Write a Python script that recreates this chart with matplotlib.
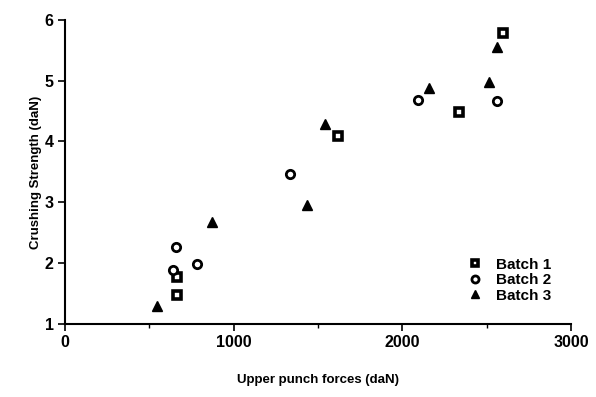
import matplotlib
matplotlib.use("Agg")
import matplotlib.pyplot as plt
from matplotlib.ticker import MultipleLocator

# Batch 1 (squares)
b1_force = [662, 662, 1617, 2334, 2595]
b1_strength = [1.48, 1.78, 4.09, 4.48, 5.78]
# Batch 2 (open circles)
b2_force = [641, 657, 780, 1333, 2091, 2559]
b2_strength = [1.88, 2.27, 1.99, 3.46, 4.68, 4.66]
# Batch 3 (filled triangles)
b3_force = [547, 870, 1434, 1540, 2157, 2512, 2559]
b3_strength = [1.29, 2.68, 2.96, 4.29, 4.88, 4.97, 5.55]

x_ticks = [0, 1000, 2000, 3000]
y_ticks = [1, 2, 3, 4, 5, 6]

plt.rcParams["font.family"] = ["Liberation Sans", "DejaVu Sans"]

fig = plt.figure(figsize=(5.96, 3.97), dpi=100)
ax = fig.add_axes([0.109, 0.184, 0.849, 0.766])

ax.plot(b1_force, b1_strength, linestyle="none", marker="s", markersize=5.5,
        markerfacecolor="white", markeredgecolor="black", markeredgewidth=2.6,
        label="Batch 1")
ax.plot(b2_force, b2_strength, linestyle="none", marker="o", markersize=6,
        markerfacecolor="white", markeredgecolor="black", markeredgewidth=2.0,
        label="Batch 2")
ax.plot(b3_force, b3_strength, linestyle="none", marker="^", markersize=7,
        color="black", label="Batch 3")

ax.set_xlim(0, 3000)
ax.set_ylim(1, 6)
ax.set_xticks(x_ticks)
ax.set_yticks(y_ticks)
ax.xaxis.set_minor_locator(MultipleLocator(500))
ax.tick_params(direction="out", length=5, width=1.2, labelsize=11.5, pad=3)
ax.tick_params(which="minor", direction="out", length=3, width=1)
for lab in ax.get_xticklabels() + ax.get_yticklabels():
    lab.set_fontweight("bold")

ax.spines["top"].set_visible(False)
ax.spines["right"].set_visible(False)
ax.spines["left"].set_linewidth(1.5)
ax.spines["bottom"].set_linewidth(1.5)

ax.set_xlabel("Upper punch forces (daN)", fontsize=9.5, fontweight="bold",
              labelpad=17)
ax.set_ylabel("Crushing Strength (daN)", fontsize=9.5, fontweight="bold",
              labelpad=2)

ax.legend(loc="lower right", bbox_to_anchor=(0.98, 0.04), frameon=False,
          prop={"size": 11, "weight": "bold"}, markerscale=0.85,
          handlelength=1.0, handletextpad=0.9,
          labelspacing=0.1, borderaxespad=0.2)

fig.savefig("out.png", dpi=100)
